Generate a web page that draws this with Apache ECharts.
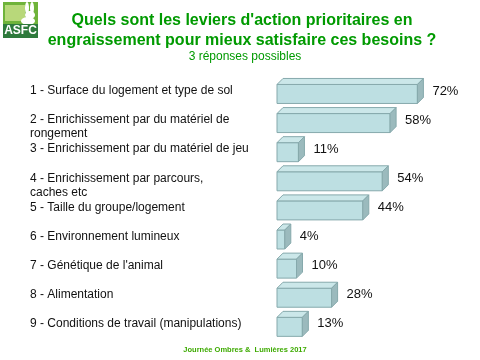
<!DOCTYPE html>
<html>
<head>
<meta charset="utf-8">
<script src="https://cdn.jsdelivr.net/npm/echarts@6/dist/echarts.min.js"></script>
<style>
html,body{margin:0;padding:0;background:#fff;}
#chart{width:480px;height:360px;}
</style>
</head>
<body>
<div id="chart"></div>
<script>
const categories = [
  "1 - Surface du logement et type de sol",
  "2 - Enrichissement par du matériel de\nrongement",
  "3 - Enrichissement par du matériel de jeu",
  "4 - Enrichissement par parcours,\ncaches etc",
  "5 - Taille du groupe/logement",
  "6 - Environnement lumineux",
  "7 - Génétique de l'animal",
  "8 - Alimentation",
  "9 - Conditions de travail (manipulations)"
];
const values = [72, 58, 11, 54, 44, 4, 10, 28, 13];
const titleText = "Quels sont les leviers d'action prioritaires en\nengraissement pour mieux satisfaire ces besoins ?";
const subtitleText = "3 réponses possibles";
const footerText = "Journée Ombres &  Lumières 2017";

const FONT = "'Liberation Sans', Arial, sans-serif";
const chart = echarts.init(document.getElementById('chart'), null, {renderer: 'canvas'});

const seriesData = values.map((v, i) => [v, i]);

function renderBar(params, api) {
  const v = api.value(0), c = api.value(1);
  const p0 = api.coord([0, c]);
  const p1 = api.coord([v, c]);
  const cy = p0[1] + 10;
  const h = 19, d = 6;
  const x0 = p0[0], x1 = p1[0];
  const y0 = cy - h / 2, y1 = cy + h / 2;
  const stroke = '#86A9AC';
  return {
    type: 'group',
    children: [
      {type: 'rect', shape: {x: x0, y: y0, width: x1 - x0, height: h},
       style: {fill: '#BDDFE2', stroke: stroke, lineWidth: 1}},
      {type: 'polygon', shape: {points: [[x0, y0], [x0 + d, y0 - d], [x1 + d, y0 - d], [x1, y0]]},
       style: {fill: '#CBE7E9', stroke: stroke, lineWidth: 1}},
      {type: 'polygon', shape: {points: [[x1, y0], [x1 + d, y0 - d], [x1 + d, y1 - d], [x1, y1]]},
       style: {fill: '#9BBABD', stroke: stroke, lineWidth: 1}},
      {type: 'text', style: {text: v + '%', x: x1 + 15, y: cy - 3, fill: '#111',
       font: '13px ' + FONT, align: 'left', verticalAlign: 'middle'}}
    ]
  };
}

const option = {
  backgroundColor: '#ffffff',
  animation: false,
  title: [
    {text: titleText, left: 237, top: 6, textAlign: 'center',
     textStyle: {color: '#009A00', fontSize: 16, fontWeight: 'bold', fontFamily: FONT, lineHeight: 20}},
    {text: subtitleText, left: 240, top: 46, textAlign: 'center',
     textStyle: {color: '#009A00', fontSize: 12, fontWeight: 'normal', fontFamily: FONT}},
    {text: footerText, left: 240, top: 341, textAlign: 'center',
     textStyle: {color: '#3DAA00', fontSize: 7.5, fontWeight: 'bold', fontFamily: FONT}}
  ],
  grid: {left: 277, width: 195, top: 69.4, height: 262},
  xAxis: {type: 'value', min: 0, max: 100, show: false},
  yAxis: {
    type: 'category', data: categories, inverse: true,
    axisLine: {show: false}, axisTick: {show: false}, splitLine: {show: false},
    axisLabel: {align: 'left', margin: 247, verticalAlign: 'top', lineHeight: 14,
      color: '#111', fontSize: 12, fontFamily: FONT}
  },
  series: [{type: 'custom', renderItem: renderBar, data: seriesData,
    encode: {x: 0, y: 1}, clip: false}],
  graphic: [
    {type: 'rect', shape: {x: 3, y: 2, width: 35, height: 36}, style: {fill: '#6FB33A'}},
    {type: 'rect', shape: {x: 5, y: 5, width: 20, height: 16}, style: {fill: '#B8D87A'}},
    {type: 'ellipse', shape: {cx: 27, cy: 8, rx: 2, ry: 6}, style: {fill: '#ffffff'}},
    {type: 'ellipse', shape: {cx: 32, cy: 8, rx: 2, ry: 6}, style: {fill: '#ffffff'}},
    {type: 'ellipse', shape: {cx: 30, cy: 15, rx: 5, ry: 4}, style: {fill: '#ffffff'}},
    {type: 'ellipse', shape: {cx: 28, cy: 21, rx: 7, ry: 4}, style: {fill: '#ffffff'}},
    {type: 'rect', shape: {x: 3, y: 24, width: 35, height: 14}, style: {fill: '#2E7A3C'}},
    {type: 'text', style: {text: 'ASFC', x: 20.5, y: 30.5, fill: '#ffffff',
      font: 'bold 12px ' + FONT, align: 'center', verticalAlign: 'middle'}}
  ]
};
chart.setOption(option);
</script>
</body>
</html>
